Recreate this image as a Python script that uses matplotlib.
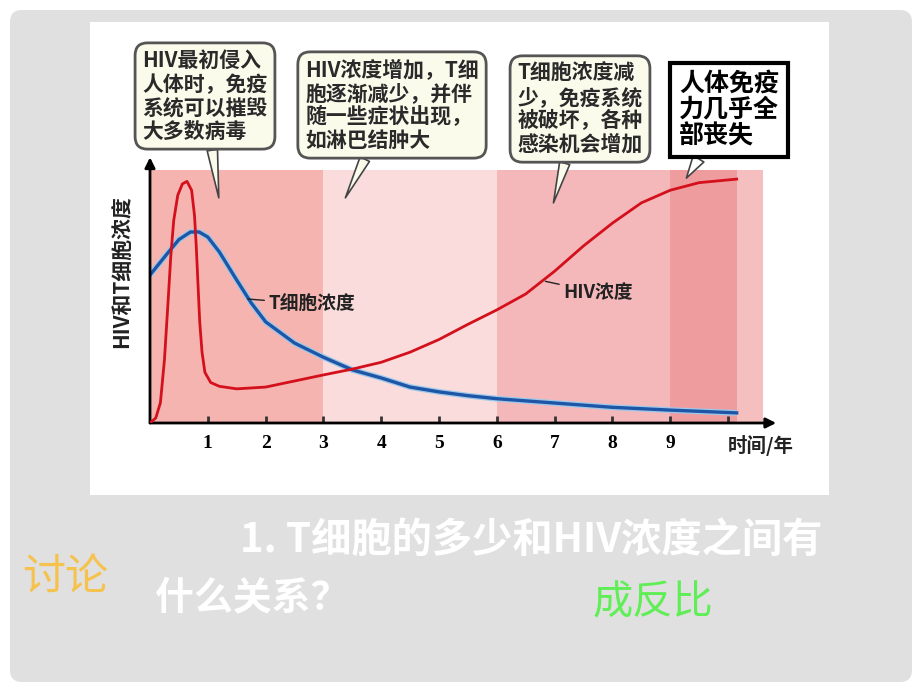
import numpy as np
import matplotlib
matplotlib.use('Agg')
from matplotlib import pyplot as plt
from matplotlib.patches import FancyBboxPatch, Rectangle
from matplotlib.transforms import IdentityTransform

plt.rcParams['font.family'] = ['Noto Sans CJK SC', 'DejaVu Sans']

# HIV concentration (red)
hiv_x = [0, 0.1, 0.18, 0.25, 0.31, 0.36, 0.41, 0.48, 0.56, 0.64, 0.72, 0.77, 0.80,
         0.83, 0.86, 0.9, 0.95, 1.05, 1.2, 1.5, 2.0, 2.5, 3.0, 3.5, 4.0, 4.5, 5.0,
         5.5, 6.0, 6.5, 7.0, 7.5, 8.0, 8.5, 9.0, 9.5, 10.15]
hiv_y = [0, 2, 8, 25, 47, 66, 80, 90, 94.5, 95.5, 92, 82, 70,
         55, 40, 28, 20, 16, 14.5, 13.5, 14.2, 16.6, 19, 21.3, 24, 28, 33,
         39, 44.7, 51, 60, 70, 79, 87, 92, 95, 96.4]

# T cell concentration (blue)
t_x = [0, 0.3, 0.5, 0.7, 0.85, 1.0, 1.2, 1.5, 1.75, 2.0, 2.5, 3.0, 3.5, 4.0,
       4.5, 5.0, 5.5, 6.0, 7.0, 8.0, 9.0, 10.15]
t_y = [58.5, 67, 72.5, 75.5, 75.5, 73.5, 67.6, 56.5, 47.5, 40, 31.6, 26, 21, 17.8,
       14.2, 12.3, 10.8, 9.6, 7.9, 6.2, 5.1, 4]

# background stages (years)
band_edges = [0, 3, 6, 9, 10.15, 10.6]
band_colors = ['#f5b4b0', '#f9dcdb', '#f5b8ba', '#ef9c9e', '#f6bfbf']

ticks = [1, 2, 3, 4, 5, 6, 7, 8, 9, 10]
tick_labels = ['1', '2', '3', '4', '5', '6', '7', '8', '9', '']

notes = ['HIV最初侵入\n人体时，免疫\n系统可以摧毁\n大多数病毒',
         'HIV浓度增加，T细\n胞逐渐减少，并伴\n随一些症状出现，\n如淋巴结肿大',
         'T细胞浓度减\n少，免疫系统\n被破坏，各种\n感染机会增加',
         '人体免疫\n力几乎全\n部丧失']
note_pos = [(205, 594), (392, 585), (580, 581), (729, 580)]
note_tip = [(1.19, 89), (3.38, 89), (6.98, 87), (9.28, 96.8)]

fig = plt.figure(figsize=(9.2, 6.9), dpi=100, facecolor='white')

# slide background
fig.patches.append(FancyBboxPatch((10, 8), 902, 672, boxstyle='round,pad=0,rounding_size=12',
                                  transform=IdentityTransform(), fc='#e0e0e0', ec='none',
                                  zorder=-10, figure=fig))
fig.patches.append(Rectangle((90, 195), 739, 473, transform=IdentityTransform(),
                             fc='white', ec='none', zorder=-9, figure=fig))

ax = fig.add_axes([150 / 920, 267 / 690, 612.7 / 920, 253 / 690])
ax.set_facecolor('none')
ax.set_xlim(0, 10.6)
ax.set_ylim(0, 100)

for i in range(len(band_colors)):
    ax.axvspan(band_edges[i], band_edges[i + 1], color=band_colors[i], lw=0, zorder=0)

ax.plot(t_x, t_y, color='#9cc8ec', lw=4.2, solid_capstyle='butt', zorder=2)
ax.plot(t_x, t_y, color='#1f55a5', lw=2.4, zorder=3)
ax.plot(hiv_x, hiv_y, color='#d3101c', lw=2.0, zorder=4)

for s in ax.spines.values():
    s.set_visible(False)
ax.annotate('', xy=(1.022, 0), xytext=(0, 0), xycoords='axes fraction',
            arrowprops=dict(arrowstyle='-|>,head_length=0.6,head_width=0.3', color='black',
                            lw=2, shrinkA=0, shrinkB=0), annotation_clip=False)
ax.annotate('', xy=(0, 1.05), xytext=(0, 0), xycoords='axes fraction',
            arrowprops=dict(arrowstyle='-|>,head_length=0.6,head_width=0.3', color='black',
                            lw=2, shrinkA=0, shrinkB=0), annotation_clip=False)

ax.set_xticks(ticks)
ax.set_xticklabels(tick_labels, fontfamily='Liberation Serif', fontweight='bold', fontsize=14)
ax.tick_params(axis='x', direction='in', length=5, width=2, pad=9, color='#333333')
ax.set_yticks([])

ax.set_ylabel('HIV和T细胞浓度', fontsize=15, fontweight='bold', color='#222222')
ax.yaxis.set_label_coords(-0.028, 0.6)
ax.text(0.943, -0.09, '时间/年', transform=ax.transAxes, fontsize=14, fontweight='bold',
        ha='left', va='center', color='#222222')

ax.annotate('T细胞浓度', xy=(1.69, 49), xytext=(2.05, 47), fontsize=13.5, fontweight='bold',
            ha='left', va='center', color='#222222',
            arrowprops=dict(arrowstyle='-', color='#222222', lw=1, shrinkA=1, shrinkB=0))
ax.annotate('HIV浓度', xy=(6.84, 56), xytext=(7.15, 51.5), fontsize=13.5, fontweight='bold',
            ha='left', va='center', color='#222222',
            arrowprops=dict(arrowstyle='-', color='#222222', lw=1, shrinkA=1, shrinkB=0))

# callouts
for i in range(4):
    if i < 3:
        box = dict(boxstyle='round,pad=0.35,rounding_size=0.6', fc='#fbfbec', ec='#555555', lw=2)
        fs = 15
        col = '#2a2a2a'
        ls = 1.15
    else:
        box = dict(boxstyle='square,pad=0.35', fc='white', ec='black', lw=3)
        fs = 18
        col = 'black'
        ls = 1.12
    ax.annotate(notes[i], xy=note_tip[i], xycoords='data', xytext=note_pos[i],
                textcoords='figure pixels', ha='center', va='center', multialignment='left',
                fontsize=fs, fontweight='bold', color=col, linespacing=ls, bbox=box,
                annotation_clip=False,
                arrowprops=dict(arrowstyle='wedge,tail_width=0.5', fc=box['fc'], ec='#444444',
                                lw=1.2, shrinkA=0, shrinkB=0))

# slide texts
fig.text(240 / 920, 1 - 540 / 690, '1. T细胞的多少和HIV浓度之间有', fontsize=29, fontweight='bold',
         color='white', ha='left', va='center')
fig.text(155 / 920, 1 - 598 / 690, '什么关系？', fontsize=28, fontweight='bold',
         color='white', ha='left', va='center')
fig.text(22 / 920, 1 - 578 / 690, '讨论', fontsize=31, color='#f6c24e', ha='left', va='center')
fig.text(593 / 920, 1 - 603 / 690, '成反比', fontsize=29, color='#5fee55', ha='left', va='center')

fig.savefig('out.png', dpi=100)
